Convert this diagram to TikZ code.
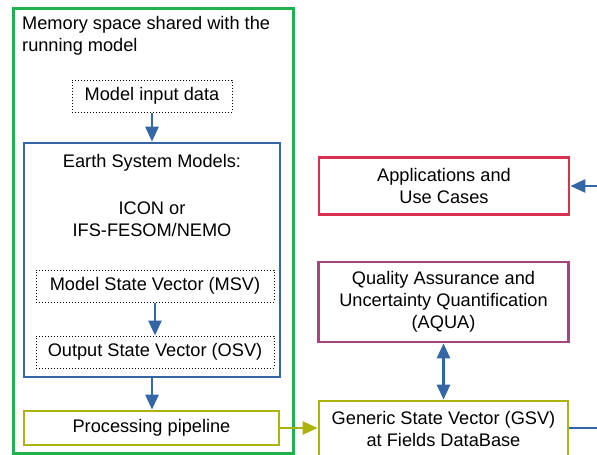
\documentclass[tikz,border=0pt]{standalone}
\usepackage{fontspec}
\setmainfont{Liberation Sans}
\usetikzlibrary{arrows.meta}
\definecolor{memgreen}{HTML}{22B24B}
\definecolor{esmblue}{HTML}{3465A4}
\definecolor{pipeolive}{HTML}{ADB30E}
\definecolor{appred}{HTML}{D9304F}
\definecolor{aquapurple}{HTML}{A3467F}
\tikzset{
  box/.style={draw, line width=2.8pt, fill=white, align=center, inner sep=0pt,
    font=\fontsize{18.2}{22}\selectfont},
  dotbox/.style={draw, dotted, line width=1pt, align=center, inner sep=0pt,
    font=\fontsize{18.2}{22}\selectfont},
  label/.style={align=center, inner sep=0pt, font=\fontsize{18.2}{22}\selectfont},
  flow/.style={line width=2.8pt, -{Triangle[length=15pt,width=13pt]}},
  twoway/.style={line width=2.8pt, {Triangle[length=15pt,width=13pt]}-{Triangle[length=15pt,width=13pt]}},
}
\begin{document}
\begin{tikzpicture}[x=1pt,y=-1pt]
\useasboundingbox (0,0) rectangle (597,455);
\clip (0,0) rectangle (597,455);

% shared memory region
\node[box, draw=memgreen, fill=none, minimum width=280pt, minimum height=445pt, anchor=north west]
  (mem) at (12,7) {};
\node[label, align=left, anchor=north west] (memtitle) at (22,16)
  {Memory space shared with the\\running model};

% model input
\node[dotbox, minimum width=160pt, minimum height=32pt] (input) at (152,96) {Model input data};

% Earth system models container
\node[box, draw=esmblue, fill=none, minimum width=256pt, minimum height=234pt] (esm) at (152,260) {};
\node[label] (esmtitle) at (152,163) {Earth System Models:};
\node[label] (esmnames) at (152,219) {ICON or\\IFS-FESOM/NEMO};
\node[dotbox, minimum width=238pt, minimum height=32pt] (msv) at (155,286) {Model State Vector (MSV)};
\node[dotbox, minimum width=238pt, minimum height=32pt] (osv) at (155,352) {Output State Vector (OSV)};

% processing pipeline
\node[box, draw=pipeolive, minimum width=255pt, minimum height=34pt] (pipe) at (151.5,428) {Processing pipeline};

% right-hand column
\node[box, draw=appred, minimum width=250pt, minimum height=57pt] (app) at (444,186)
  {Applications and\\Use Cases};
\node[box, draw=aquapurple, minimum width=250pt, minimum height=80pt] (aqua) at (443.5,302)
  {Quality Assurance and\\Uncertainty Quantification\\(AQUA)};
\node[box, draw=pipeolive, minimum width=249pt, minimum height=56pt] (gsv) at (443.5,429)
  {Generic State Vector (GSV)\\at Fields DataBase};

\coordinate (gsvout) at (600,428);
\coordinate (appin) at (600,186);

% connectors
\draw[flow, esmblue] (input.south) -- (esm.north -| input.south);
\draw[flow, esmblue] (msv.south) -- (osv.north);
\draw[flow, esmblue] (esm.south) -- (pipe.north -| esm.south);
\draw[flow, pipeolive] (pipe.east) -- (gsv.west |- pipe.east);
\draw[twoway, esmblue] (aqua.south) -- (gsv.north);
\draw[line width=2.8pt, esmblue] (gsv.east |- gsvout) -- (gsvout);
\draw[flow, esmblue] (appin) -- (app.east |- appin);
\end{tikzpicture}
\end{document}
